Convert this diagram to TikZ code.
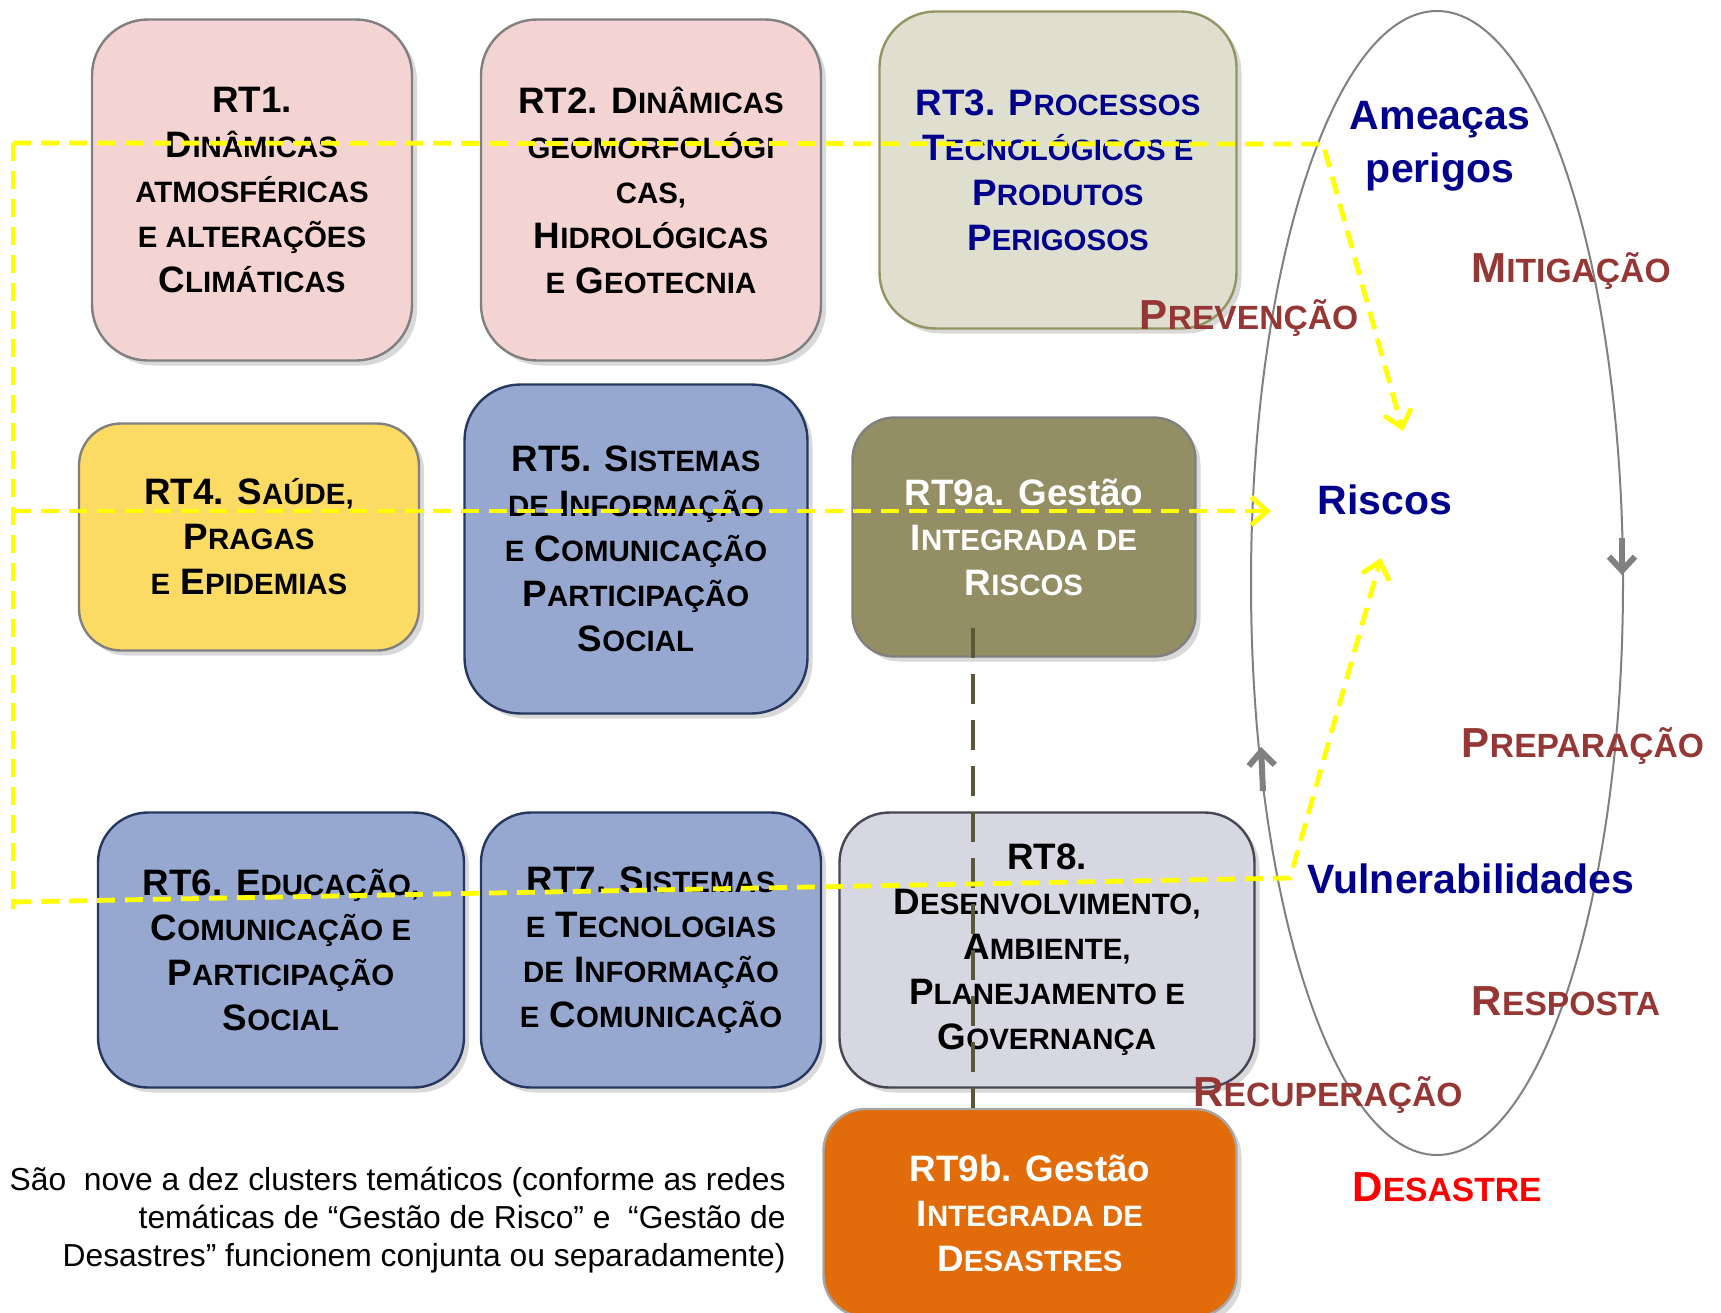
\documentclass[tikz,border=0pt]{standalone}
\usepackage{fontspec}
\setmainfont{Liberation Sans}
\newfontfamily\capsfont[Scale=0.8]{Liberation Sans}
\newcommand\sml[1]{{\capsfont\MakeUppercase{#1}}}
\usetikzlibrary{arrows.meta, shadows}

\definecolor{pinkfill}{RGB}{244,211,211}
\definecolor{techfill}{RGB}{223,223,208}
\definecolor{techline}{RGB}{148,148,98}
\definecolor{goldfill}{RGB}{252,219,100}
\definecolor{bluefill}{RGB}{151,168,208}
\definecolor{blueline}{RGB}{38,56,95}
\definecolor{olivefill}{RGB}{147,142,99}
\definecolor{greyfill}{RGB}{214,215,225}
\definecolor{greyline}{RGB}{70,70,85}
\definecolor{orangefill}{RGB}{226,108,10}
\definecolor{navytext}{RGB}{0,0,140}
\definecolor{phasered}{RGB}{149,55,53}
\definecolor{linkolive}{RGB}{90,88,55}
\definecolor{flowyellow}{RGB}{255,255,0}

\begin{document}
\begin{tikzpicture}[
    x=0.5pt, y=-0.5pt,
    theme/.style={
        draw=gray,
        line width=1.2pt,
        align=center,
        inner sep=0pt,
        font=\fontsize{18.4}{22.5}\selectfont\bfseries,
        drop shadow={shadow xshift=2.5pt, shadow yshift=-2.5pt, opacity=0.3}
    },
    pinkbox/.style={theme, fill=pinkfill},
    techbox/.style={theme, fill=techfill, draw=techline, text=navytext},
    goldbox/.style={theme, fill=goldfill},
    bluebox/.style={theme, fill=bluefill, draw=blueline},
    olivebox/.style={theme, fill=olivefill, text=white},
    greybox/.style={theme, fill=greyfill, draw=greyline},
    orangebox/.style={theme, fill=orangefill, draw=gray!70, text=white},
    hazard/.style={
        text=navytext,
        align=center,
        font=\fontsize{20.5}{26.5}\selectfont\bfseries
    },
    phase/.style={
        text=phasered,
        font=\fontsize{21}{24}\selectfont\bfseries
    },
    flow/.style={
        draw=flowyellow,
        line width=2.4pt,
        dash pattern=on 9pt off 5pt,
        -{Straight Barb[length=8pt, width=14pt]}
    },
    flowline/.style={flow, -},
    link/.style={draw=linkolive, line width=2pt, dash pattern=on 15pt off 8pt},
    ring/.style={draw=gray, line width=1pt},
    turn/.style={draw=gray, line width=3pt, -{Straight Barb[length=7pt, width=13pt, line width=3pt]}}
]

\useasboundingbox (0,0) rectangle (1721,1313);

\node[pinkbox, minimum width=160pt, minimum height=170.5pt, rounded corners=28pt] (rt1) at (252,190)
    {RT1.\\D\sml{inâmicas}\\\sml{atmosféricas}\\\sml{e alterações}\\C\sml{limáticas}};
\node[pinkbox, minimum width=170pt, minimum height=170.5pt, rounded corners=28pt] (rt2) at (651,190)
    {RT2. D\sml{inâmicas}\\\sml{geomorfológi}\\\sml{cas,}\\H\sml{idrológicas}\\\sml{e} G\sml{eotecnia}};
\node[techbox, minimum width=178.5pt, minimum height=158.5pt, rounded corners=28pt] (rt3) at (1058,170)
    {RT3. P\sml{rocessos}\\T\sml{ecnológicos e}\\P\sml{rodutos}\\P\sml{erigosos}};
\node[goldbox, minimum width=170pt, minimum height=113.5pt, rounded corners=21pt] (rt4) at (249,537)
    {RT4. S\sml{aúde,}\\P\sml{ragas}\\\sml{e} E\sml{pidemias}};
\node[bluebox, minimum width=171.5pt, minimum height=164.5pt, rounded corners=28pt] (rt5) at (636,549)
    {RT5. S\sml{istemas}\\\sml{de} I\sml{nformação}\\\sml{e} C\sml{omunicação}\\P\sml{articipação}\\S\sml{ocial}};
\node[olivebox, minimum width=171.5pt, minimum height=119.5pt, rounded corners=21pt] (rt9a) at (1024,537)
    {RT9a. Gestão\\I\sml{ntegrada de}\\R\sml{iscos}};
\node[bluebox, minimum width=183pt, minimum height=137.5pt, rounded corners=25pt] (rt6) at (281,950)
    {RT6. E\sml{ducação,}\\C\sml{omunicação e}\\P\sml{articipação}\\S\sml{ocial}};
\node[bluebox, minimum width=170pt, minimum height=137.5pt, rounded corners=25pt] (rt7) at (651,950)
    {RT7. S\sml{istemas}\\\sml{e} T\sml{ecnologias}\\\sml{de} I\sml{nformação}\\\sml{e} C\sml{omunicação}};
\node[greybox, minimum width=207.5pt, minimum height=137.5pt, rounded corners=25pt] (rt8) at (1047,950)
    {RT8.\\D\sml{esenvolvimento,}\\A\sml{mbiente,}\\P\sml{lanejamento e}\\G\sml{overnança}};
\node[orangebox, minimum width=206.5pt, minimum height=104pt, rounded corners=21pt] (rt9b) at (1030,1213)
    {RT9b. Gestão\\I\sml{ntegrada de}\\D\sml{esastres}};

\coordinate (ring) at (1437,583);
\draw[ring] (ring) ellipse [x radius=186, y radius=572];
\draw[turn] ([shift={(185,-45)}]ring) -- ++(0,37);
\draw[turn] ([shift={(-174,208)}]ring) -- ++(-2,-44);

\node[hazard] (ameacas) at (1440,146) {Ameaças\\perigos};
\node[hazard] (riscos) at (1385,500) {Riscos};
\node[hazard] (vulner) at (1471,879) {Vulnerabilidades};

\node[phase] (mitig) at (1571,271) {M\sml{itigação}};
\node[phase] (preven) at (1249,318) {P\sml{revenção}};
\node[phase] (prepar) at (1583,746) {P\sml{reparação}};
\node[phase] (respos) at (1566,1001) {R\sml{esposta}};
\node[phase] (recup) at (1328,1095) {R\sml{ecuperação}};
\node[phase, text=red] (desastre) at (1447,1187) {D\sml{esastre}};

\node[anchor=east, align=right, inner sep=0pt, font=\fontsize{15.9}{19.2}\selectfont] (nota) at (786,1220)
    {São~ nove a dez clusters temáticos (conforme as redes\\temáticas de “Gestão de Risco” e~ “Gestão de\\Desastres” funcionem conjunta ou separadamente)};

\coordinate (linktop) at (973,628);
\draw[link] (linktop) -- (linktop |- rt9b.north);

\coordinate (fork) at (13,143);
\coordinate (forkend) at (13,909);
\coordinate (hazbend) at (1323,144);
\coordinate (hazhead) at (1403,431);
\coordinate (midstart) at (13,511);
\coordinate (midhead) at (1271,511);
\coordinate (vulstart) at (13,902);
\coordinate (vulbend) at (1290,878);
\coordinate (vulhead) at (1381,558);

\draw[flowline] (fork) -- (forkend);
\draw[flow] (fork) -- (hazbend) -- (hazhead);
\draw[flow] (midstart) -- (midhead);
\draw[flow] (vulstart) -- (vulbend) -- (vulhead);

\end{tikzpicture}
\end{document}
